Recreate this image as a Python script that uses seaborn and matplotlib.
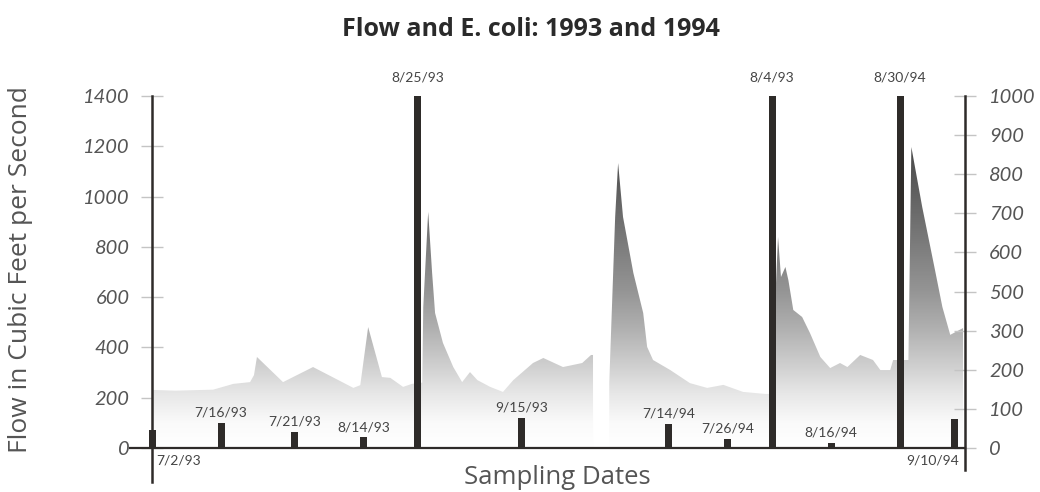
import numpy as np
import matplotlib
matplotlib.use('Agg')
import matplotlib.pyplot as plt
from matplotlib.colors import LinearSegmentedColormap
from matplotlib.path import Path
import seaborn as sns

# Flow (cubic feet per second). Day position counted from 7/2/93;
# the 1994 season is placed right after 1993, 7/2/94 = day 93.
flow_day_93 = [0, 4.7, 12.4, 16.5, 19.9, 20.7, 21.3, 26.6, 32.7, 40.9, 42.3, 43.9,
               46.7, 48.4, 51.0, 52.8, 54.9, 55.1, 56.1, 56.9, 57.5, 59.1, 61.2,
               63.0, 64.6, 66.1, 68.7, 71.3, 73.4, 77.4, 79.5, 83.5, 87.4, 89.2, 89.6]
flow_cfs_93 = [231, 228, 232, 255, 262, 290, 362, 262, 322, 239, 250, 481,
               282, 279, 243, 255, 260, 560, 939, 696, 537, 418, 322,
               262, 302, 270, 243, 223, 270, 338, 358, 322, 338, 370, 370]

flow_day_94 = [92.9, 94.1, 94.7, 95.7, 97.8, 99.8, 100.6, 101.8, 105.3, 109.3, 112.8,
               116.1, 120.1, 124.6, 125.8, 127.2, 127.8, 128.7, 129.3, 130.3, 132.1,
               133.7, 135.8, 137.8, 139.8, 141.3, 143.9, 146.5, 148.0, 150.0, 150.6,
               152.6, 153.7, 154.3, 156.5, 159.1, 160.6, 162.2, 164.8]
flow_cfs_94 = [258, 919, 1133, 919, 696, 537, 402, 350, 310, 258, 239,
               251, 223, 215, 215, 839, 680, 720, 668, 549, 521,
               457, 362, 318, 338, 322, 370, 350, 310, 310, 350,
               350, 350, 1197, 959, 708, 561, 450, 477]

# E. coli sampling dates (labels as printed) and bar heights on the right axis
sample_labels = ['7/2/93', '7/16/93', '7/21/93', '8/14/93', '8/25/93', '9/15/93',
                 '7/14/94', '7/26/94', '8/4/93', '8/16/94', '8/30/94', '9/10/94']
sample_day = [0, 14, 29, 43, 54, 75, 105, 117, 126, 138, 152, 163]
ecoli_height = [46, 65, 42, 27, 900, 77, 62, 24, 900, 14, 900, 74]

flow_ticks = [0, 200, 400, 600, 800, 1000, 1200, 1400]
ecoli_ticks = [0, 100, 200, 300, 400, 500, 600, 700, 800, 900]
ecoli_tick_labels = ['0', '100', '200', '300', '500', '600', '700', '800', '900', '1000']

sns.set_theme(style='white')
plt.rcParams['font.family'] = ['Lato', 'DejaVu Sans']
text_font = ['Open Sans', 'DejaVu Sans']

x_lo, x_hi = -4.5, 165.2
ink = '#2e2b29'
tick_grey = '#c4c4c4'
label_grey = '#555555'

fig = plt.figure(figsize=(10.4, 4.92), dpi=100)
ax = fig.add_axes([130 / 1040, 44 / 492, 835 / 1040, 352 / 492])
ax.patch.set_alpha(0)

# flow area: grey ramp that darkens with height, clipped to the flow outline
grey_ramp = LinearSegmentedColormap.from_list('flow', [
    (0.0, '#ffffff'), (0.07, '#fafafa'), (0.15, '#e8e8e8'), (0.22, '#d3d3d3'),
    (0.34, '#b0b0b0'), (0.45, '#949494'), (0.67, '#6b6b6b'), (0.85, '#494949'),
    (1.0, '#383838')])
ramp = np.linspace(0, 1, 512).reshape(-1, 1)
im = ax.imshow(ramp, cmap=grey_ramp, extent=[x_lo, x_hi, 0, 1400],
               origin='lower', aspect='auto', zorder=1)
paths = []
for days, cfs in [(flow_day_93, flow_cfs_93), (flow_day_94, flow_cfs_94)]:
    pc = ax.fill_between(days, cfs, 0, facecolor='none', edgecolor='none')
    paths += pc.get_paths()
im.set_clip_path(Path.make_compound_path(*paths), transform=ax.transData)

ax.set_xlim(x_lo, x_hi)
ax.set_ylim(0, 1400)
for s in ['top', 'right', 'bottom']:
    ax.spines[s].set_visible(False)
ax.spines['left'].set_position(('data', 0))
ax.spines['left'].set_bounds(-135, 1400)
ax.spines['left'].set_color(ink)
ax.spines['left'].set_linewidth(1.8)
ax.set_xticks([])
ax.set_yticks(flow_ticks)
ax.tick_params(axis='y', direction='inout', length=16.5, width=1, color=tick_grey,
               pad=8, labelsize=14.5, labelcolor=label_grey)
for lab in ax.get_yticklabels():
    lab.set_fontstyle('italic')

# E. coli bars on the right axis
ax2 = ax.twinx()
sns.barplot(x=sample_day, y=ecoli_height, native_scale=True, width=0.158,
            color=ink, saturation=1, errorbar=None, orient='x', linewidth=0, ax=ax2)
ax2.set_xlim(x_lo, x_hi)
ax2.set_ylim(0, 900)
ax2.set_xlabel('')
ax2.set_ylabel('')
ax2.set_xticks([])
for s in ['top', 'left']:
    ax2.spines[s].set_visible(False)
ax2.spines['bottom'].set_color(ink)
ax2.spines['bottom'].set_linewidth(1.6)
ax2.spines['right'].set_color(ink)
ax2.spines['right'].set_linewidth(1.8)
ax2.spines['right'].set_bounds(-56, 900)
ax2.set_yticks(ecoli_ticks, labels=ecoli_tick_labels)
ax2.tick_params(axis='y', direction='inout', length=16.5, width=1, color=tick_grey,
                pad=9, labelsize=14.5, labelcolor=label_grey)
for lab in ax2.get_yticklabels():
    lab.set_fontstyle('italic')

# date labels for each sample
n = len(sample_labels)
for i, (lab, d, h) in enumerate(zip(sample_labels, sample_day, ecoli_height)):
    if i == 0:
        kw = dict(xytext=(3, -5), ha='left', va='top')
        h = 0
    elif i == n - 1:
        kw = dict(xytext=(3.5, -5), ha='right', va='top')
        h = 0
    elif h >= 900:
        kw = dict(xytext=(0, 9), ha='center', va='bottom')
    else:
        kw = dict(xytext=(0, 3), ha='center', va='bottom')
    ax2.annotate(lab, xy=(d, h), textcoords='offset points', fontsize=10,
                 color='#444444', annotation_clip=False, **kw)

fig.text(531 / 1040, 1 - 30 / 492, 'Flow and E. coli: 1993 and 1994', ha='center',
         va='center', fontsize=18, fontweight='bold', color='#2a2a2a',
         family=text_font)
fig.text(21 / 1040, 1 - 270 / 492, 'Flow in Cubic Feet per Second', rotation=90,
         ha='center', va='center', fontsize=19, color=label_grey, family=text_font)
fig.text(557 / 1040, 1 - 478 / 492, 'Sampling Dates', ha='center', va='center',
         fontsize=18.5, color=label_grey, family=text_font)

fig.savefig('out.png', dpi=100)
